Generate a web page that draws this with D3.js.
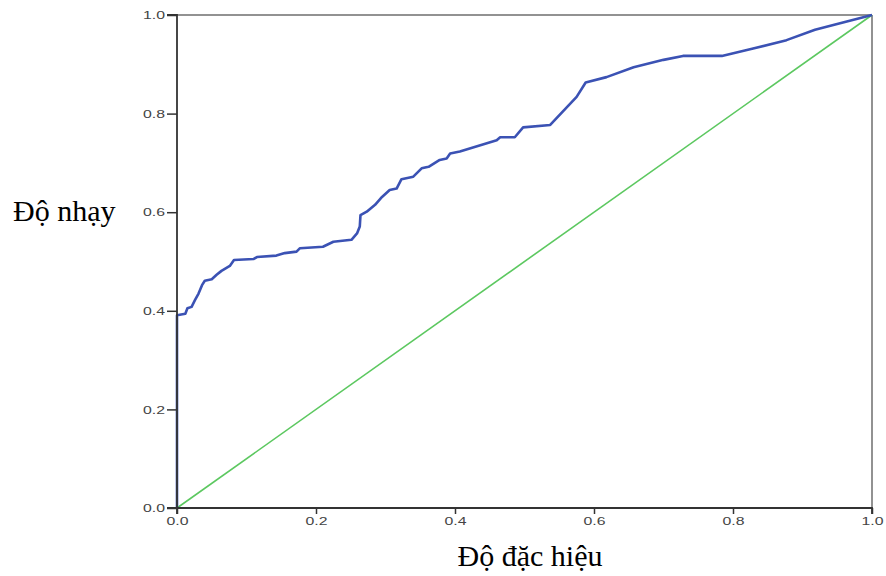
<!DOCTYPE html>
<html>
<head>
<meta charset="utf-8">
<script src="https://cdn.jsdelivr.net/npm/d3@7"></script>
<style>
  html, body { margin: 0; padding: 0; background: #fff; }
  svg { display: block; }
</style>
</head>
<body>
<svg id="chart" width="886" height="576"></svg>
<script>
// 1 - specificity (x) and sensitivity (y) of the ROC curve
const rocX = [0, 0, 0.012, 0.015, 0.021, 0.026, 0.031, 0.036, 0.040, 0.050, 0.057, 0.064, 0.076, 0.082,
  0.110, 0.115, 0.143, 0.155, 0.172, 0.177, 0.210, 0.225, 0.251, 0.259, 0.263, 0.264, 0.273, 0.285,
  0.295, 0.306, 0.316, 0.323, 0.340, 0.352, 0.362, 0.378, 0.388, 0.393, 0.407, 0.460, 0.465, 0.486,
  0.498, 0.537, 0.575, 0.588, 0.618, 0.657, 0.700, 0.728, 0.784, 0.829, 0.877, 0.918, 0.961, 1];
const rocY = [0, 0.391, 0.394, 0.405, 0.408, 0.422, 0.435, 0.452, 0.461, 0.464, 0.473, 0.481, 0.491, 0.503,
  0.505, 0.509, 0.512, 0.517, 0.520, 0.527, 0.530, 0.540, 0.544, 0.557, 0.571, 0.594, 0.601, 0.615,
  0.631, 0.645, 0.648, 0.667, 0.672, 0.689, 0.692, 0.706, 0.709, 0.719, 0.723, 0.746, 0.752, 0.752,
  0.772, 0.777, 0.834, 0.863, 0.874, 0.894, 0.909, 0.917, 0.917, 0.932, 0.949, 0.970, 0.986, 1];
const refX = [0, 1];
const refY = [0, 1];
const tickValues = [0, 0.2, 0.4, 0.6, 0.8, 1.0];
const xTitle = "Độ đặc hiệu";
const yTitle = "Độ nhạy";

(function () {
const svg = d3.select("#chart");
const pLeft = 177, pRight = 872, pTop = 15, pBottom = 508;
const x = d3.scaleLinear().domain([0, 1]).range([pLeft, pRight]);
const y = d3.scaleLinear().domain([0, 1]).range([pBottom, pTop]);

// frame (top and right)
svg.append("line").attr("x1", pLeft).attr("x2", pRight).attr("y1", pTop).attr("y2", pTop)
  .attr("stroke", "#6e6e6e").attr("stroke-width", 1.5);
svg.append("line").attr("x1", pRight).attr("x2", pRight).attr("y1", pTop).attr("y2", pBottom)
  .attr("stroke", "#6e6e6e").attr("stroke-width", 1.5);

// reference diagonal
const line = d3.line().x(d => x(d[0])).y(d => y(d[1]));
svg.append("path").datum(refX.map((v, i) => [v, refY[i]]))
  .attr("d", line).attr("fill", "none").attr("stroke", "#5cc860").attr("stroke-width", 1.6);

// ROC curve
svg.append("path").datum(rocX.map((v, i) => [v, rocY[i]]))
  .attr("d", line).attr("fill", "none").attr("stroke", "#3b52b4").attr("stroke-width", 2.6)
  .attr("stroke-linejoin", "round");

// axes
const xAxis = d3.axisBottom(x).tickValues(tickValues).tickFormat(d3.format(".1f")).tickSize(6).tickPadding(3);
const yAxis = d3.axisLeft(y).tickValues(tickValues).tickFormat(d3.format(".1f")).tickSize(10).tickPadding(2);

const gx = svg.append("g").attr("transform", `translate(0,${pBottom})`).call(xAxis);
const gy = svg.append("g").attr("transform", `translate(${pLeft},0)`).call(yAxis);
[gx, gy].forEach(g => {
  g.select(".domain").attr("stroke", "#333").attr("stroke-width", 1.8);
  g.selectAll(".tick line").attr("stroke", "#333").attr("stroke-width", 1.5);
  g.selectAll(".tick text").attr("fill", "#444")
    .style("font-family", "'Liberation Sans', Arial, sans-serif").style("font-size", "11.5px")
    .attr("textLength", 22).attr("lengthAdjust", "spacingAndGlyphs");
});
gy.select(".domain").attr("d", `M-10,${y(1)}H0V${y(0)}H-10`);
gx.select(".domain").attr("d", `M${x(0)},6V0H${x(1)}V6`);

// titles
svg.append("text").attr("x", 530).attr("y", 566).attr("text-anchor", "middle")
  .style("font-family", "'Liberation Serif', 'Times New Roman', serif").style("font-size", "30px")
  .attr("fill", "#000").text(xTitle);
svg.append("text").attr("x", 13).attr("y", 221).attr("text-anchor", "start")
  .style("font-family", "'Liberation Serif', 'Times New Roman', serif").style("font-size", "30px")
  .attr("fill", "#000").text(yTitle);
})();
</script>
</body>
</html>
